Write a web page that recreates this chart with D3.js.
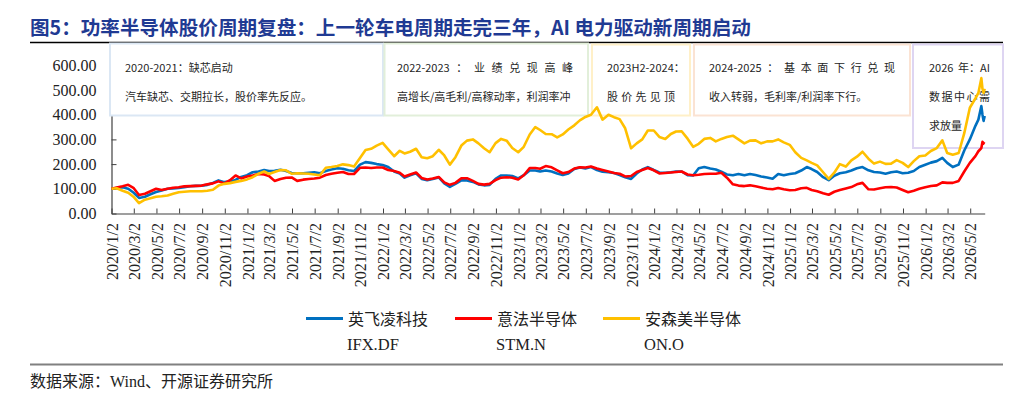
<!DOCTYPE html>
<html><head><meta charset="utf-8">
<script src="https://cdn.jsdelivr.net/npm/d3@7"></script>
<style>body{margin:0;background:#fff}svg{display:block}</style>
</head><body>
<svg id="c" width="1024" height="400"></svg>
<script>
// ---------------- data ----------------
const tickLabels = ["2020/1/2","2020/3/2","2020/5/2","2020/7/2","2020/9/2","2020/11/2",
"2021/1/2","2021/3/2","2021/5/2","2021/7/2","2021/9/2","2021/11/2",
"2022/1/2","2022/3/2","2022/5/2","2022/7/2","2022/9/2","2022/11/2",
"2023/1/2","2023/3/2","2023/5/2","2023/7/2","2023/9/2","2023/11/2",
"2024/1/2","2024/3/2","2024/5/2","2024/7/2","2024/9/2","2024/11/2",
"2025/1/2","2025/3/2","2025/5/2","2025/7/2","2025/9/2","2025/11/2",
"2026/1/2","2026/3/2","2026/5/2"];
const yTicks = [0,100,200,300,400,500,600];

// sample dates: 1st & 16th of each month Jan 2020 - May 2026, then last days
const tailDates = ["2026-05-24","2026-06-01","2026-06-04","2026-06-07","2026-06-10"];

const seriesNames = ["英飞凌科技","意法半导体","安森美半导体"];
const seriesCodes = ["IFX.DF","STM.N","ON.O"];

const ifx = [100,103,106,100,85,63,68,78,87,93,
100,101,103,106,110,112,113,116,124,134,
127,130,136,148,155,167,170,176,172,173,
177,172,164,163,163,165,167,163,172,
178,183,181,175,172,198,208,205,200,196,188,
170,162,145,155,163,140,135,140,146,122,
108,120,134,134,128,118,114,116,140,154,
154,152,142,155,174,174,170,174,
170,162,156,162,180,186,182,188,176,169,167,164,
156,147,140,162,178,188,176,166,165,167,
170,170,155,154,183,188,182,178,169,158,
155,160,155,160,156,150,146,
141,160,155,160,163,174,188,180,168,147,135,153,163,
167,174,183,188,175,168,166,161,167,170,
163,165,172,188,197,206,212,225,205,188,
198,255,300,355,
380,435,400,375,395];

const stm = [100,105,110,116,104,75,80,90,100,95,
100,104,106,110,111,112,113,118,122,130,
122,135,154,142,150,154,160,158,152,132,
140,145,146,132,137,140,142,145,156,
161,165,168,160,160,185,186,184,186,186,176,
172,165,150,158,166,144,138,142,148,126,
116,124,143,143,132,120,117,120,135,145,
147,145,138,155,184,184,181,192,
187,175,163,168,182,187,186,190,182,176,170,164,
161,150,152,168,176,184,175,162,164,166,
168,170,158,155,157,160,161,161,165,145,
118,113,111,114,110,105,100,
98,103,98,94,95,102,104,95,90,82,76,88,95,
101,107,118,124,98,97,102,106,107,105,
95,86,92,100,106,111,114,126,124,124,
132,170,205,232,
252,265,290,285,282];

const on = [100,102,92,84,68,42,56,62,68,70,
73,80,86,88,90,90,90,92,96,113,
120,123,128,132,138,147,161,170,160,168,
176,175,161,163,162,161,158,155,185,
188,192,199,196,190,225,257,262,275,286,260,
232,254,243,250,262,228,224,232,258,235,
198,228,275,295,300,284,264,248,285,302,
295,265,248,270,320,350,338,322,
321,308,320,340,357,377,391,400,430,380,400,390,
382,345,264,284,300,336,336,310,302,322,
332,333,303,270,282,302,306,292,302,310,
315,300,284,295,296,284,292,
292,300,288,278,248,225,215,205,195,167,140,165,200,
190,215,230,250,222,202,210,201,202,216,
205,188,212,232,235,253,265,296,245,238,
245,325,428,466,
488,548,505,488,505];

const seriesValues = [ifx, stm, on];
const seriesColors = ["#0070c0","#ff0000","#ffc000"];

// annotation texts
const notes = [
  {lines:[["2020-2021：缺芯启动"],["汽车缺芯、交期拉长，股价率先反应。"]]},
  {lines:[["2022-2023","：","业","绩","兑","现","高","峰"],["高增长/高毛利/高稼动率，利润率冲"]]},
  {lines:[["2023H2-2024："],["股","价","先","见","顶"]]},
  {lines:[["2024-2025","：","基","本","面","下","行","兑","现"],["收入转弱，毛利率/利润率下行。"]]},
  {lines:[["2026","年：AI"],["数","据","中","心","需"],["求放量"]]}
];

// ---------------- layout ----------------
const boxLayout = [
  {x0:110, x1:383, y0:43.5, y1:115.5, tx:125, tx1:null, stroke:"#dbe7f4"},
  {x0:384.5, x1:588, y0:43.5, y1:115.5, tx:397, tx1:573, stroke:"#e2efda"},
  {x0:592, x1:690, y0:44.5, y1:115.5, tx:607, tx1:675, stroke:"#fff0c8"},
  {x0:694, x1:910, y0:44.5, y1:115.5, tx:709, tx1:895, stroke:"#fbe3d3"},
  {x0:913, x1:1003, y0:44.5, y1:148, tx:929, tx1:990, stroke:"#ded5f2"}
];
const lineBase = [72, 101, 130];

const svg = d3.select("#c");
const parse = d3.timeParse("%Y-%m-%d");
const parseTick = d3.timeParse("%Y/%m/%d");

const dates = [];
d3.timeMonth.range(new Date(2020,0,1), new Date(2026,5,1)).forEach((m,i)=>{
  dates.push(i===0 ? new Date(2020,0,2) : m);
  dates.push(new Date(m.getFullYear(), m.getMonth(), 16));
});
tailDates.forEach(s=>dates.push(parse(s)));

const x = d3.scaleTime().domain([new Date(2020,0,2), new Date(2026,5,10)]).range([111.5, 984.7]);
const y = d3.scaleLinear().domain([0,600]).range([213.5, 65.3]);

const CJK = "'Noto Sans CJK SC','Noto Sans',sans-serif";
const SERIF = "'Liberation Serif','DejaVu Serif',serif";

// title
svg.append("text").attr("x",30).attr("y",34.5)
  .attr("font-family",CJK).attr("font-weight","bold").attr("font-size",19.6)
  .attr("fill","#1f3a93")
  .text("图5：功率半导体股价周期复盘：上一轮车电周期走完三年，AI 电力驱动新周期启动");
svg.append("line").attr("x1",30).attr("x2",1003).attr("y1",42.5).attr("y2",42.5)
  .attr("stroke","#000").attr("stroke-width",1.5);

// axes
const yAxis = svg.append("g").attr("transform","translate(111.5,0)")
  .call(d3.axisLeft(y).tickValues(yTicks).tickSize(-5).tickSizeOuter(0).tickPadding(15)
    .tickFormat(d=>d.toFixed(2)));
yAxis.selectAll("path,line").attr("stroke","#404040");
yAxis.selectAll("text").attr("font-family",SERIF).attr("font-size",16).attr("fill","#222");

const tickDates = tickLabels.map(parseTick);
const xAxis = svg.append("g").attr("transform",`translate(0,${y(0)})`)
  .call(d3.axisBottom(x).tickValues(tickDates).tickSize(-5).tickSizeOuter(0)
    .tickFormat((d,i)=>tickLabels[i]));
xAxis.selectAll("path,line").attr("stroke","#404040");
xAxis.selectAll("text").attr("font-family",SERIF).attr("font-size",16).attr("fill","#222")
  .attr("transform","rotate(-90)").attr("x",-9.5).attr("y",0).attr("dy","0.35em")
  .attr("text-anchor","end");
xAxis.selectAll("path.domain").attr("stroke-width",1.2);
yAxis.selectAll("path.domain").attr("stroke-width",1.2);

// annotation boxes
const gBox = svg.append("g");
function justified(g, tokens, x0, x1, yb){
  const els = tokens.map(t=>g.append("text").attr("y",yb).text(t));
  const w = els.map(e=>e.node().getComputedTextLength());
  const gap = tokens.length>1 ? (x1-x0-d3.sum(w))/(tokens.length-1) : 0;
  let cx = x0;
  els.forEach((e,i)=>{ e.attr("x",cx); cx += w[i]+gap; });
}
boxLayout.forEach((b,i)=>{
  gBox.append("rect").attr("x",b.x0).attr("y",b.y0).attr("width",b.x1-b.x0).attr("height",b.y1-b.y0)
    .attr("fill","#fff").attr("stroke",b.stroke).attr("stroke-width",2);
  const g = gBox.append("g").attr("font-family",CJK).attr("font-size",11).attr("fill","#262626");
  notes[i].lines.forEach((tokens,j)=>{
    if(tokens.length===1) g.append("text").attr("x",b.tx).attr("y",lineBase[j]).text(tokens[0]);
    else justified(g, tokens, b.tx, b.tx1, lineBase[j]);
  });
});

// lines
const line = d3.line().x((d,i)=>x(dates[i])).y(d=>y(d));
seriesValues.forEach((vals,i)=>{
  svg.append("path").datum(vals).attr("d",line).attr("fill","none")
    .attr("stroke",seriesColors[i]).attr("stroke-width",2.6).attr("stroke-linejoin","round");
});

// legend
const legX = [306, 455, 603];
seriesNames.forEach((n,i)=>{
  const g = svg.append("g").attr("transform",`translate(${legX[i]},0)`);
  g.append("line").attr("x1",0).attr("x2",37).attr("y1",318.5).attr("y2",318.5)
    .attr("stroke",seriesColors[i]).attr("stroke-width",3);
  g.append("text").attr("x",42).attr("y",325).attr("font-family",CJK).attr("font-size",16)
    .attr("fill","#222").text(n);
  g.append("text").attr("x",41).attr("y",350).attr("font-family",SERIF).attr("font-size",16.5)
    .attr("fill","#222").text(seriesCodes[i]);
});

// bottom rule & source
svg.append("line").attr("x1",30).attr("x2",1003).attr("y1",364.5).attr("y2",364.5)
  .attr("stroke","#808080").attr("stroke-width",2);
const src = svg.append("text").attr("x",30).attr("y",387).attr("font-size",16).attr("fill","#222")
  .attr("font-family",CJK);
src.append("tspan").text("数据来源：");
src.append("tspan").attr("font-family",SERIF).text("Wind");
src.append("tspan").text("、开源证券研究所");
</script>
</body></html>
